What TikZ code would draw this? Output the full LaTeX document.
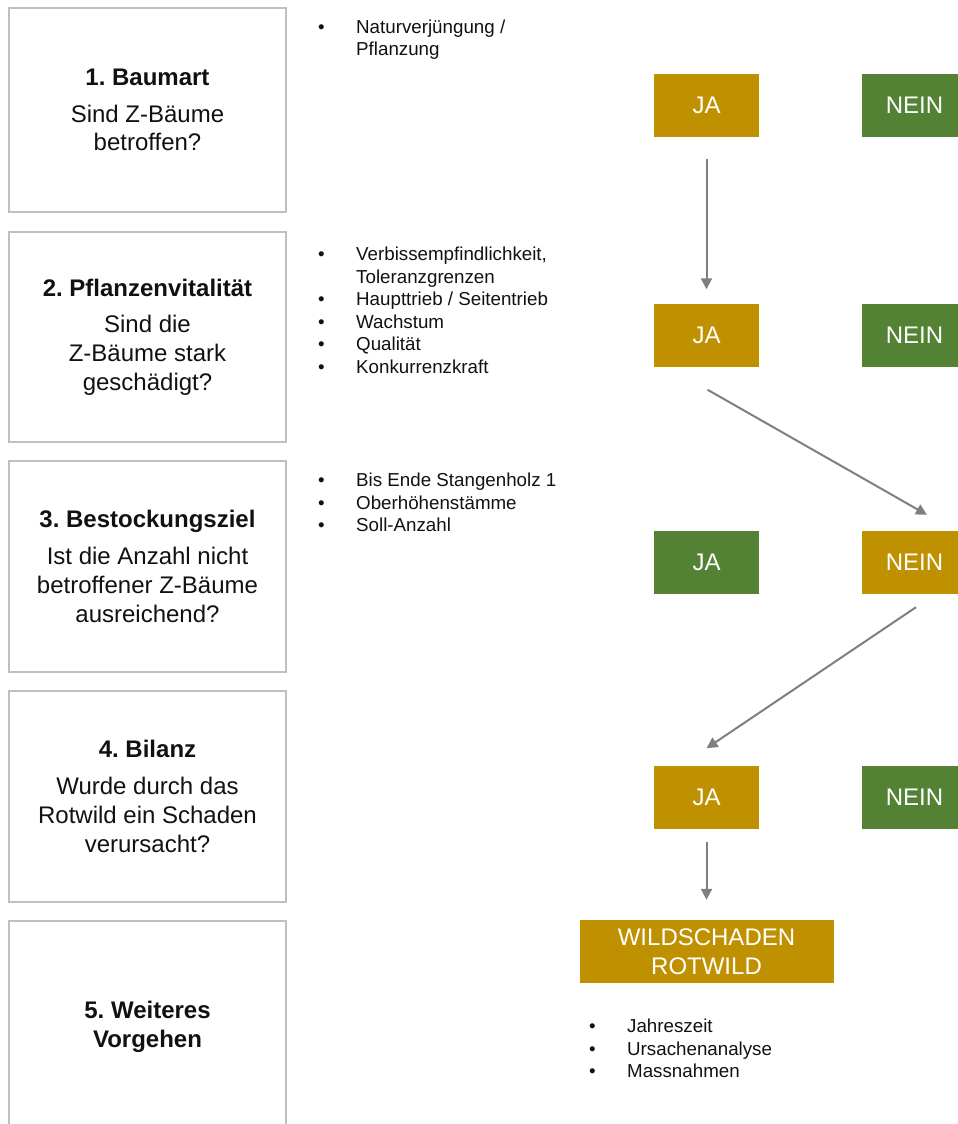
\documentclass[tikz,border=0pt]{standalone}
\usepackage{fontspec}
\setmainfont{Liberation Sans}
\usetikzlibrary{arrows.meta}
\definecolor{gold}{HTML}{BF9000}
\definecolor{leaf}{HTML}{548235}
\definecolor{frame}{HTML}{BFBFBF}
\definecolor{arrowgray}{HTML}{7F7F7F}
\definecolor{txt}{HTML}{111111}
\frenchspacing
\tikzset{
  qbox/.style={draw=frame, line width=1.3pt, inner sep=0pt, minimum width=277pt,
    align=center, text=txt, font=\fontsize{24}{28.8}\selectfont},
  tag/.style={inner sep=0pt, minimum width=105pt, minimum height=63pt, text=white,
    font=\fontsize{24}{28.8}\selectfont, align=center},
  ja/.style={tag, fill=gold},
  nein/.style={tag, fill=leaf},
  blist/.style={inner sep=0pt, anchor=base west, text=txt, font=\fontsize{18.75}{22.5}\selectfont},
  arr/.style={draw=arrowgray, line width=2pt, -{Triangle[length=11pt,width=11pt]}}
}
\newcommand{\bl}{\makebox[38pt][l]{\textbullet}}
\begin{document}
\begin{tikzpicture}[x=1pt,y=-1pt]
\useasboundingbox (0,0) rectangle (958,1124);
\clip (0,0) rectangle (958,1124);
% left question boxes
\node[qbox, minimum height=204pt] (b1) at (147.5,110) {\textbf{1. Baumart}\\[8pt]Sind Z-Bäume\\betroffen?};
\node[qbox, minimum height=210pt] (b2) at (147.5,337) {\textbf{2. Pflanzenvitalität}\\[8pt]Sind die\\Z-Bäume stark\\geschädigt?};
\node[qbox, minimum height=211pt] (b3) at (147.5,566.5) {\textbf{3. Bestockungsziel}\\[8pt]Ist die Anzahl nicht\\betroffener Z-Bäume\\ausreichend?};
\node[qbox, minimum height=211pt] (b4) at (147.5,796.5) {\textbf{4. Bilanz}\\[8pt]Wurde durch das\\Rotwild ein Schaden\\verursacht?};
\node[qbox, minimum height=212pt] (b5) at (147.5,1027) {\textbf{5. Weiteres}\\\textbf{Vorgehen}};
% bullet lists
\node[blist] (l1) at (318,33.5) {\begin{tabular}[t]{@{}l@{}l@{}}\bl&Naturverjüngung /\\&Pflanzung\end{tabular}};
\node[blist] (l2) at (318,260.5) {\begin{tabular}[t]{@{}l@{}l@{}}\bl&Verbissempfindlichkeit,\\&Toleranzgrenzen\\\bl&Haupttrieb / Seitentrieb\\\bl&Wachstum\\\bl&Qualität\\\bl&Konkurrenzkraft\end{tabular}};
\node[blist] (l3) at (318,486.5) {\begin{tabular}[t]{@{}l@{}l@{}}\bl&Bis Ende Stangenholz 1\\\bl&Oberhöhenstämme\\\bl&Soll-Anzahl\end{tabular}};
\node[blist] (l4) at (589,1032.5) {\begin{tabular}[t]{@{}l@{}l@{}}\makebox[38pt][l]{\textbullet}&Jahreszeit\\\makebox[38pt][l]{\textbullet}&Ursachenanalyse\\\makebox[38pt][l]{\textbullet}&Massnahmen\end{tabular}};
% answer boxes
\node[ja] (ja1) at (706.5,105.5) {JA};
\node[nein] (ne1) at (914.5,105.5) {NEIN};
\node[ja] (ja2) at (706.5,335) {JA};
\node[nein] (ne2) at (914.5,335) {NEIN};
\node[nein] (ja3) at (706.5,562.5) {JA};
\node[ja] (ne3) at (914.5,562.5) {NEIN};
\node[ja] (ja4) at (706.5,797) {JA};
\node[nein] (ne4) at (914.5,797) {NEIN};
\node[tag, fill=gold, minimum width=254pt, minimum height=63pt] (ws) at (706.5,951.5) {WILDSCHADEN\\ROTWILD};
% connectors
\draw[arr] ([yshift=-22pt]ja1.south) -- ([yshift=14pt]ja2.north);
\draw[arr] ([xshift=1pt,yshift=-23pt]ja2.south) -- ([xshift=12.5pt,yshift=16pt]ne3.north);
\draw[arr] ([xshift=1.5pt,yshift=-13pt]ne3.south) -- ([yshift=17pt]ja4.north);
\draw[arr] ([yshift=-13pt]ja4.south) -- ([yshift=20pt]ws.north);
\end{tikzpicture}
\end{document}
